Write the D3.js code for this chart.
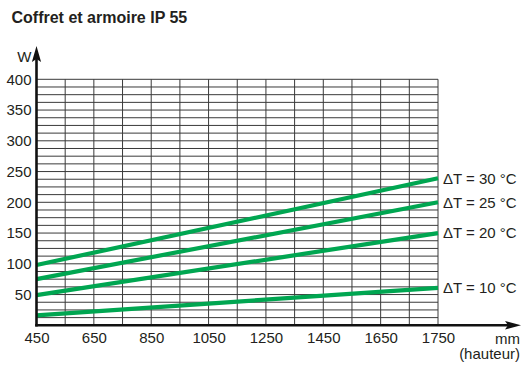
<!DOCTYPE html>
<html><head><meta charset="utf-8">
<script src="https://cdn.jsdelivr.net/npm/d3@7"></script>
<style>
html,body{margin:0;padding:0;background:#fff;}
svg{display:block;font-family:"Liberation Sans",Arial,Helvetica,sans-serif;}
</style></head>
<body>
<svg id="chart" width="527" height="365"></svg>
<script>
// ---- data ----
const title = "Coffret et armoire IP 55";
const seriesNames = ["ΔT = 30 °C", "ΔT = 25 °C", "ΔT = 20 °C", "ΔT = 10 °C"];
const heightsMm = [450, 1750];
const valuesDT30 = [98, 239];
const valuesDT25 = [75, 200];
const valuesDT20 = [49, 150];
const valuesDT10 = [16, 61];
const xTickValues = [450, 650, 850, 1050, 1250, 1450, 1650, 1750];
const xGridValues = [550, 650, 750, 850, 950, 1050, 1150, 1250, 1350, 1450, 1550, 1650, 1700, 1750];
const yTickValues = [50, 100, 150, 200, 250, 300, 350, 400];
const yUnit = "W";
const xUnit = "mm";
const xSub = "(hauteur)";

const seriesValues = [valuesDT30, valuesDT25, valuesDT20, valuesDT10];

// ---- layout ----
const svg = d3.select("#chart");
const x0 = 36.5, x1 = 438, y0 = 325.3, y1 = 79.3;
// the drawing's x axis: 450..1650 in 100 mm steps, then 1650..1750 over two grid cells
const x = d3.scaleLinear().domain([450, 1650, 1750]).range([x0, x0 + (x1 - x0) * 12 / 14, x1]);
const y = d3.scaleLinear().domain([0, 400]).range([y0, y1]);
const green = "#00a651";
const gridColor = "#3a3a3a";

svg.append("text").attr("x", 11.5).attr("y", 23.3)
  .attr("font-size", 16).attr("font-weight", "bold").attr("fill", "#231f20").text(title);

// grid
const g = svg.append("g");
const hVals = d3.range(1, 33).map(i => i * 12.5);
g.selectAll("line.h").data(hVals).join("line").attr("class", "h")
  .attr("x1", x0).attr("x2", x1).attr("y1", d => y(d)).attr("y2", d => y(d))
  .attr("stroke", gridColor).attr("stroke-width", 1);
g.selectAll("line.v").data(xGridValues).join("line").attr("class", "v")
  .attr("x1", d => x(d)).attr("x2", d => x(d)).attr("y1", y0).attr("y2", y(400))
  .attr("stroke", gridColor).attr("stroke-width", 1);

// series lines
const line = d3.line().x(d => x(d[0])).y(d => y(d[1]));
seriesValues.forEach((vals, i) => {
  const pts = heightsMm.map((h, j) => [h, vals[j]]);
  svg.append("path").attr("d", line(pts)).attr("fill", "none")
    .attr("stroke", green).attr("stroke-width", 4.2);
  svg.append("text").attr("x", x1 + 5).attr("y", y(vals[vals.length - 1]))
    .attr("dy", "0.35em").attr("font-size", 15).attr("fill", "#231f20").text(seriesNames[i]);
});

// axes
const yAxis = d3.axisLeft(y).tickValues(yTickValues).tickSize(0).tickPadding(5);
const ya = svg.append("g").attr("transform", `translate(${x0},0)`).call(yAxis);
ya.select(".domain").remove();
ya.selectAll("text").attr("font-size", 15).attr("fill", "#231f20")
  .attr("font-family", "Liberation Sans, Arial, sans-serif");

const xAxis = d3.axisBottom(x).tickValues(xTickValues).tickSize(0).tickPadding(7.5).tickFormat(d3.format("d"));
const xa = svg.append("g").attr("transform", `translate(0,${y0})`).call(xAxis);
xa.select(".domain").remove();
xa.selectAll("text").attr("font-size", 15).attr("fill", "#231f20")
  .attr("font-family", "Liberation Sans, Arial, sans-serif");

// axis lines with arrows
svg.append("line").attr("x1", x0).attr("x2", x0).attr("y1", y0 + 1.2).attr("y2", 55)
  .attr("stroke", "#111").attr("stroke-width", 2.6);
svg.append("path").attr("d", `M${x0},46 L${x0 + 4.6},62 L${x0},59 L${x0 - 4.6},62 Z`).attr("fill", "#111");
svg.append("line").attr("x1", x0 - 1.3).attr("x2", 512).attr("y1", y0).attr("y2", y0)
  .attr("stroke", "#111").attr("stroke-width", 2.6);
svg.append("path").attr("d", `M521,${y0} L505,${y0 - 4.3} L508,${y0} L505,${y0 + 4.3} Z`).attr("fill", "#111");

svg.append("text").attr("x", 31.5).attr("y", 62).attr("text-anchor", "end")
  .attr("font-size", 15).attr("fill", "#231f20").text(yUnit);
svg.append("text").attr("x", 520).attr("y", 343.5).attr("text-anchor", "end")
  .attr("font-size", 15).attr("fill", "#231f20").text(xUnit);
svg.append("text").attr("x", 520).attr("y", 359).attr("text-anchor", "end")
  .attr("font-size", 15).attr("fill", "#231f20").text(xSub);
</script>
</body></html>
